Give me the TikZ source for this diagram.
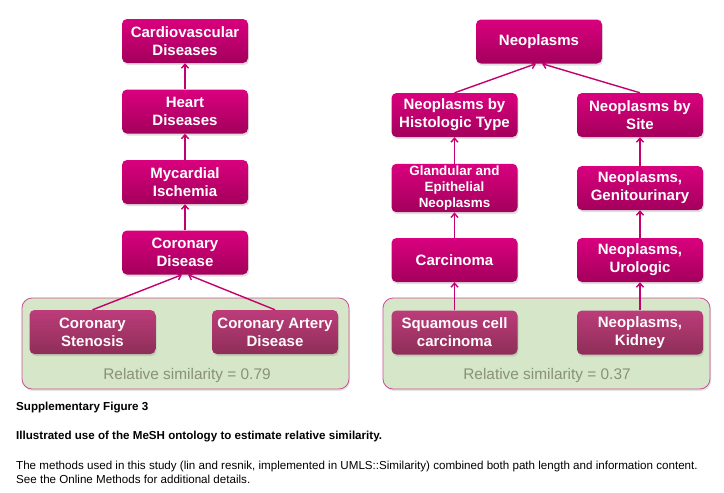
\documentclass[tikz,border=0pt]{standalone}
\usepackage{fontspec}
\setmainfont{Liberation Sans}
\usetikzlibrary{arrows.meta,shadows}

\definecolor{meshpink}{HTML}{DA007E}
\definecolor{meshdark}{HTML}{A3005C}
\definecolor{leafpink}{HTML}{BC3C7A}
\definecolor{leafdark}{HTML}{8E2E58}
\definecolor{linkpink}{HTML}{C4006E}
\definecolor{simfill}{HTML}{D6E7C9}
\definecolor{simedge}{HTML}{CC4E92}
\definecolor{simtext}{HTML}{8A9175}

\tikzset{
  term/.style={rounded corners=5pt, top color=meshpink, bottom color=meshdark,
    draw=none, text=white, font=\bfseries\fontsize{15}{18}\selectfont, align=center,
    minimum width=126pt, minimum height=44pt, inner sep=2pt,
    drop shadow={opacity=0.25, shadow xshift=1pt, shadow yshift=-2pt}},
  leaf/.style={term, top color=leafpink, bottom color=leafdark, text=white!93!pink},
  simbox/.style={rounded corners=10pt, fill=simfill, draw=simedge, line width=0.8pt,
    minimum width=327pt, minimum height=91pt,
    drop shadow={opacity=0.2, shadow xshift=1pt, shadow yshift=-2pt}},
  simlabel/.style={text=simtext, font=\fontsize{15.4}{18}\selectfont},
  link/.style={draw=linkpink, line width=1.4pt, -{Straight Barb[length=4pt,width=7pt]}},
  capline/.style={anchor=west, font=\fontsize{11.6}{14}\selectfont, inner sep=0pt}
}

\begin{document}
\begin{tikzpicture}[x=1pt,y=-1pt]
\useasboundingbox (0,0) rectangle (724,493);

% similarity panels
\node[simbox] (leftsim) at (185.5,343.5) {};
\node[simbox] (rightsim) at (546.5,343.5) {};
\node[simlabel] (leftval) at (187,376) {Relative similarity = 0.79};
\node[simlabel] (rightval) at (547,376) {Relative similarity = 0.37};

% cardiovascular branch
\node[term] (cvd) at (185,41) {Cardiovascular\\Diseases};
\node[term] (heart) at (185,111.5) {Heart\\Diseases};
\node[term] (ischemia) at (185,182) {Mycardial\\Ischemia};
\node[term] (cordis) at (185,252.5) {Coronary\\Disease};
\node[leaf] (stenosis) at (92.5,332) {Coronary\\Stenosis};
\node[leaf] (cad) at (275,332) {Coronary Artery\\Disease};

% neoplasm branch
\node[term] (neo) at (539,41.5) {Neoplasms};
\node[term] (histo) at (454.5,115) {Neoplasms by\\Histologic Type};
\node[term] (site) at (640,115) {Neoplasms by\\Site};
\node[term, font=\bfseries\fontsize{13.4}{16}\selectfont] (gland) at (454.5,188) {Glandular and\\Epithelial\\Neoplasms};
\node[term] (genito) at (640,188) {Neoplasms,\\Genitourinary};
\node[term] (carci) at (454.5,260) {Carcinoma};
\node[term] (uro) at (640,260) {Neoplasms,\\Urologic};
\node[leaf] (squam) at (454.5,332.5) {Squamous cell\\carcinoma};
\node[leaf] (kidney) at (640,332.5) {Neoplasms,\\Kidney};

\draw[link] (heart) -- (cvd);
\draw[link] (ischemia) -- (heart);
\draw[link] (cordis) -- (ischemia);
\draw[link] (stenosis.north) -- ([xshift=-3pt]cordis.south);
\draw[link] (cad.north) -- ([xshift=3pt]cordis.south);

\draw[link] (histo.north) -- ([xshift=-3pt]neo.south);
\draw[link] (site.north) -- ([xshift=3pt]neo.south);
\draw[link] (gland) -- (histo);
\draw[link] (carci) -- (gland);
\draw[link] (squam) -- (carci);
\draw[link] (genito) -- (site);
\draw[link] (uro) -- (genito);
\draw[link] (kidney) -- (uro);

% caption
\node[capline, font=\bfseries\fontsize{11.6}{14}\selectfont] (capnum) at (16,408) {Supplementary Figure 3};
\node[capline, font=\bfseries\fontsize{11.6}{14}\selectfont] (captitle) at (16,437) {Illustrated use of the MeSH ontology to estimate relative similarity.};
\node[capline] (captext) at (16,466) {The methods used in this study (lin and resnik, implemented in UMLS::Similarity) combined both path length and information content.};
\node[capline] (capmore) at (16,479) {See the Online Methods for additional details.};
\end{tikzpicture}
\end{document}
